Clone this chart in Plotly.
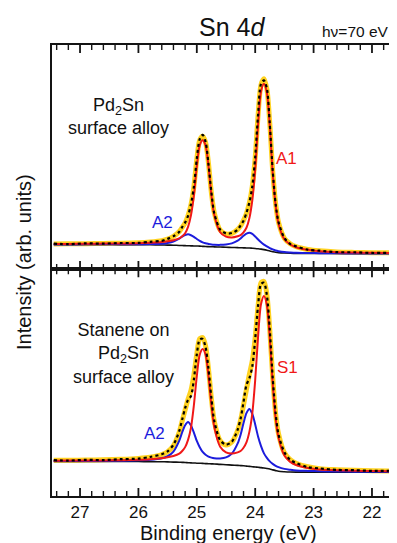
import plotly.graph_objects as go

# Binding energy grid (eV)
energy = [27.45, 27.2, 26.9, 26.6, 26.3, 26.0, 25.8, 25.6, 25.5, 25.4, 25.3, 25.25, 25.2, 25.15, 25.1,
          25.05, 25.0, 24.95, 24.9, 24.85, 24.8, 24.75, 24.7, 24.6, 24.5, 24.4, 24.3, 24.25, 24.2, 24.15,
          24.1, 24.05, 24.0, 23.95, 23.9, 23.85, 23.8, 23.75, 23.7, 23.65, 23.6, 23.5, 23.4, 23.3, 23.1,
          22.9, 22.6, 22.3, 22.0, 21.65]

# Top panel: Pd2Sn surface alloy (arb. units)
top_background = [24.5, 24.5, 24.5, 24.5, 24.4, 24.3, 24.2, 24.0, 23.9, 23.8, 23.6, 23.5, 23.4, 23.3, 23.2,
                  23.1, 23.0, 22.9, 22.7, 22.5, 22.4, 22.3, 22.2, 22.0, 21.8, 21.6, 21.4, 21.3, 21.2, 21.1,
                  21.0, 20.8, 20.6, 20.3, 19.9, 19.4, 18.8, 18.1, 17.4, 16.8, 16.4, 16.0, 15.8, 15.7, 15.6,
                  15.6, 15.5, 15.5, 15.5, 15.5]
top_A1 = [0.5, 0.6, 0.7, 0.9, 1.1, 1.5, 2.1, 3.0, 3.8, 5.0, 7.0, 9.2, 12.3, 18.8, 30.3,
          50.2, 79.4, 100.3, 105.6, 100.6, 80.0, 51.2, 31.6, 14.7, 10.5, 9.9, 11.3, 12.5, 15.4, 20.1,
          29.7, 47.5, 78.6, 124.2, 156.9, 165.0, 156.7, 123.8, 77.9, 46.6, 28.6, 13.7, 8.7, 6.1, 3.6,
          2.3, 1.4, 1.0, 0.7, 0.6]
top_A2 = [0.1, 0.1, 0.15, 0.2, 0.25, 0.4, 0.7, 1.35, 2.2, 3.7, 6.8, 8.8, 10.4, 11.3, 10.5,
          8.95, 7.0, 5.3, 4.0, 3.2, 2.7, 2.3, 2.1, 2.15, 2.7, 4.0, 6.9, 9.3, 12.0, 14.2,
          15.2, 14.2, 11.9, 9.2, 6.8, 5.0, 3.8, 2.85, 2.25, 1.8, 1.5, 1.0, 0.8, 0.6, 0.4,
          0.3, 0.2, 0.15, 0.12, 0.1]
top_data = [25.3, 24.9, 25.6, 25.4, 26.0, 26.1, 27.2, 28.2, 30.1, 32.8, 37.1, 41.9, 46.4, 53.1, 64.6,
            82.0, 109.9, 129.3, 133.5, 126.9, 104.6, 76.3, 55.4, 39.4, 35.6, 35.9, 39.3, 43.5, 48.2, 55.9,
            66.3, 82.1, 111.6, 154.2, 184.5, 187.8, 179.9, 144.2, 98.1, 64.8, 46.9, 31.1, 25.0, 22.7, 19.4,
            18.4, 16.9, 16.8, 16.1, 16.3]

# Bottom panel: stanene on Pd2Sn surface alloy (arb. units)
bot_background = [34.5, 34.5, 34.5, 34.4, 34.4, 34.3, 34.2, 34.1, 34.0, 33.8, 33.6, 33.5, 33.4, 33.2, 33.0,
                  32.9, 32.7, 32.6, 32.5, 32.3, 32.2, 32.0, 31.9, 31.5, 31.2, 30.8, 30.5, 30.3, 30.1, 29.8,
                  29.5, 29.2, 28.9, 28.6, 28.3, 27.9, 27.4, 26.8, 26.0, 25.3, 24.7, 24.2, 23.9, 23.8, 23.8,
                  23.8, 23.8, 23.8, 23.8, 23.8]
bot_S1 = [0.7, 0.75, 0.9, 1.05, 1.3, 1.8, 2.4, 3.55, 4.5, 6.0, 8.6, 11.3, 15.3, 22.7, 35.0,
          57.5, 86.7, 108.1, 113.9, 108.4, 87.3, 58.6, 36.5, 17.6, 12.3, 11.5, 13.0, 14.5, 18.0, 23.65,
          34.4, 52.9, 86.7, 130.7, 162.9, 171.3, 162.7, 130.4, 86.0, 51.9, 33.2, 16.1, 10.1, 7.1, 4.1,
          2.6, 1.8, 1.3, 1.05, 0.85]
bot_A2 = [0.3, 0.3, 0.4, 0.55, 0.8, 1.3, 2.0, 3.6, 5.6, 10.5, 21.6, 30.0, 37.1, 40.45, 37.3,
          30.3, 22.15, 16.0, 11.4, 8.85, 7.1, 6.2, 5.7, 5.9, 7.25, 11.4, 21.9, 30.8, 42.6, 52.7,
          57.2, 52.6, 42.35, 30.4, 21.4, 14.55, 10.6, 7.7, 6.0, 4.8, 4.0, 2.8, 2.25, 1.7, 1.2,
          0.85, 0.6, 0.45, 0.37, 0.3]
bot_data = [35.7, 35.3, 36.0, 35.8, 36.7, 37.2, 38.9, 41.6, 44.5, 51.0, 64.9, 76.3, 87.5, 95.8, 99.5,
            116.2, 141.0, 156.0, 156.4, 148.2, 126.9, 97.4, 74.6, 55.6, 51.2, 54.0, 66.2, 77.0, 93.5, 110.6,
            117.2, 129.0, 156.4, 190.2, 211.2, 212.5, 200.1, 165.3, 117.6, 82.6, 61.2, 43.6, 36.0, 32.9, 28.8,
            27.5, 26.0, 25.7, 25.0, 25.2]

x_ticks = [27, 26, 25, 24, 23, 22]
minor_per_major = 5
x_range = [27.48, 21.64]
top_y_range = [0, 223]
bot_y_range = [0, 226]


def add(a, b):
    return [round(p + q, 2) for p, q in zip(a, b)]


YELLOW = "rgba(255,208,20,0.95)"
RED = "#f01818"
BLUE = "#1c1cdc"
AXIS = "#141414"
FONT = "Liberation Sans, Arial, Helvetica, sans-serif"

fig = go.Figure()


def panel(bg, comp1, comp2, data, xa, ya):
    red = add(bg, comp1)
    blue = add(bg, comp2)
    fit = add(red, comp2)
    common = dict(x=energy, mode="lines", xaxis=xa, yaxis=ya, hoverinfo="skip")
    fig.add_trace(go.Scatter(y=fit, line=dict(color=YELLOW, width=5, shape="spline", smoothing=0.8), **common))
    fig.add_trace(go.Scatter(y=bg, line=dict(color="#111", width=1.6, shape="spline", smoothing=0.8), **common))
    fig.add_trace(go.Scatter(y=blue, line=dict(color=BLUE, width=2, shape="spline", smoothing=0.8), **common))
    fig.add_trace(go.Scatter(y=red, line=dict(color=RED, width=2, shape="spline", smoothing=0.8), **common))
    fig.add_trace(go.Scatter(y=data, line=dict(color="#000", width=2.2, dash="dot", shape="spline", smoothing=0.8), **common))


panel(top_background, top_A1, top_A2, top_data, "x", "y")
panel(bot_background, bot_S1, bot_A2, bot_data, "x2", "y2")

# inside tick marks (major and minor) on top and bottom edges, drawn as line traces
lo, hi = min(x_range), max(x_range)
major = [t for t in x_ticks if lo <= t <= hi]
minor = []
for t in [x_ticks[0] + 1] + x_ticks:
    for k in range(1, minor_per_major):
        v = round(t - k / minor_per_major, 3)
        if lo <= v <= hi and v not in major:
            minor.append(v)

for xa, ya, yr in (("x", "y", top_y_range), ("x2", "y2", bot_y_range)):
    span = yr[1] - yr[0]
    panel_px = 223.0 if ya == "y" else 226.0
    for vals, length, w in ((major, 8.0, 1.8), (minor, 5.0, 1.4)):
        d = length * span / panel_px
        tx, ty = [], []
        for v in vals:
            tx += [v, v, None, v, v, None]
            ty += [yr[0], yr[0] + d, None, yr[1], yr[1] - d, None]
        fig.add_trace(go.Scatter(x=tx, y=ty, mode="lines", xaxis=xa, yaxis=ya, hoverinfo="skip",
                                 line=dict(color=AXIS, width=w), connectgaps=False, cliponaxis=False))


def xaxis_style(anchor, labels):
    return dict(
        anchor=anchor, range=x_range, autorange=False,
        showline=True, linecolor=AXIS, linewidth=1.8, mirror=True,
        showgrid=False, zeroline=False, automargin=False,
        tickmode="array", tickvals=x_ticks, ticktext=[str(t) for t in x_ticks],
        ticks="", showticklabels=labels,
        tickfont=dict(size=17, family=FONT, color="#111"),
    )


ycommon = dict(showline=True, linecolor=AXIS, linewidth=1.8, mirror=True, ticks="",
               showticklabels=False, showgrid=False, zeroline=False, automargin=False, autorange=False)

# the page body adds an 8 px offset, so the figure is 8 px smaller than the window
split = 0.503
fig.update_layout(
    template="none",
    width=389, height=535,
    margin=dict(l=44, r=4, t=37, b=47),
    paper_bgcolor="white", plot_bgcolor="white",
    showlegend=False,
    font=dict(family=FONT, color="#111"),
    xaxis=xaxis_style("y", False),
    yaxis=dict(ycommon, domain=[split, 1], range=top_y_range),
    xaxis2=xaxis_style("y2", True),
    yaxis2=dict(ycommon, domain=[0, split], range=bot_y_range),
)


def px(x):
    return (x - 52) / 341


def py(y):
    return (496 - y) / 451


ann = [
    dict(text="Intensity (arb. units)", x=px(24), y=py(262), textangle=-90, font=dict(size=20)),
    dict(text="Binding energy (eV)", x=px(228), y=py(533), font=dict(size=20)),
    dict(text="Sn 4<i>d</i>", x=px(232), y=py(27), font=dict(size=25)),
    dict(text="hν=70 eV", x=px(391), y=py(31), xanchor="right", font=dict(size=15.5)),
    dict(text="Pd<sub>2</sub>Sn<br>surface alloy", x=px(118), y=py(116), font=dict(size=18)),
    dict(text="Stanene on<br>Pd<sub>2</sub>Sn<br>surface alloy", x=px(123), y=py(354), font=dict(size=18)),
    dict(text="A1", x=px(286), y=py(158), font=dict(size=17, color=RED)),
    dict(text="A2", x=px(162), y=py(222), font=dict(size=17, color=BLUE)),
    dict(text="S1", x=px(287), y=py(367), font=dict(size=17, color=RED)),
    dict(text="A2", x=px(154), y=py(433), font=dict(size=17, color=BLUE)),
]
for a in ann:
    a.setdefault("xanchor", "center")
    a.update(xref="paper", yref="paper", yanchor="middle", showarrow=False)
    a["font"].setdefault("family", FONT)
    a["font"].setdefault("color", "#111")
fig.update_layout(annotations=ann)

fig.write_html("out.html")
